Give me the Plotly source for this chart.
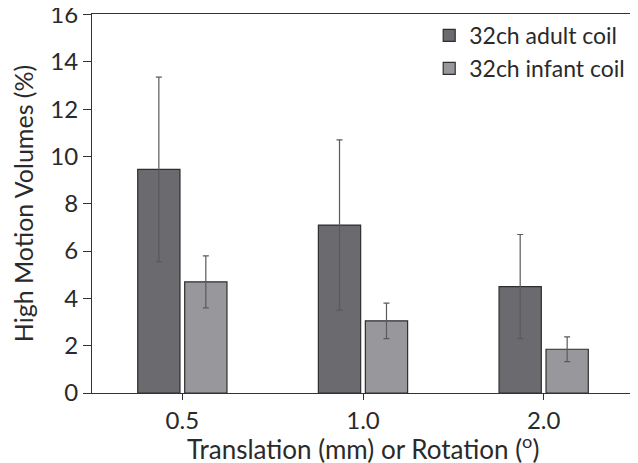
import plotly.graph_objects as go

categories = ["0.5", "1.0", "2.0"]
adult_vals = [9.45, 7.1, 4.5]
adult_err = [3.9, 3.6, 2.2]
infant_vals = [4.7, 3.05, 1.85]
infant_err = [1.1, 0.75, 0.52]
y_ticks = [0, 2, 4, 6, 8, 10, 12, 14, 16]
x_title = "Translation (mm) or Rotation (<sup>o</sup>)"
y_title = "High Motion Volumes (%)"

font_family = "Lato, Open Sans, sans-serif"
text_col = "#2a2a2a"

fig = go.Figure()
fig.add_trace(go.Bar(
    name="32ch adult coil", x=categories, y=adult_vals,
    marker=dict(color="#6b6b6f", line=dict(color="#2e2e2e", width=1.2)),
    error_y=dict(type="data", array=adult_err, color="#5a5a5a", thickness=1.2, width=3),
))
fig.add_trace(go.Bar(
    name="32ch infant coil", x=categories, y=infant_vals,
    marker=dict(color="#98989c", line=dict(color="#2e2e2e", width=1.2)),
    error_y=dict(type="data", array=infant_err, color="#5a5a5a", thickness=1.2, width=3),
))

# page body has an 8px default margin; size the figure to fill the rest
fig.update_layout(
    width=630, height=455,
    margin=dict(l=84, r=4, t=6, b=70),
    paper_bgcolor="white", plot_bgcolor="white",
    barmode="group", bargap=0.48, bargroupgap=0.1,
    font=dict(family=font_family, color=text_col, size=20),
    showlegend=True,
    legend=dict(x=0.993, y=1.0, xanchor="right", yanchor="top",
                font=dict(size=23, family=font_family, color=text_col),
                bgcolor="rgba(0,0,0,0)", tracegroupgap=0, itemwidth=30),
    xaxis=dict(
        showline=True, linecolor="#333333", linewidth=1.2, mirror=True,
        ticks="outside", ticklen=6, tickcolor="#333333",
        tickfont=dict(size=24), automargin=False, ticklabeloverflow="allow",
    ),
    yaxis=dict(
        range=[0, 16.02], tickvals=y_ticks,
        showline=True, linecolor="#333333", linewidth=1.2, mirror=True,
        ticks="outside", ticklen=8, tickcolor="#333333",
        showgrid=False, zeroline=False, automargin=False, ticklabeloverflow="allow",
        tickfont=dict(size=24),
        title=dict(text=y_title, font=dict(size=25), standoff=9),
    ),
    annotations=[dict(
        text=x_title, xref="paper", yref="paper", x=0.5, y=-0.143,
        xanchor="center", yanchor="middle", showarrow=False,
        font=dict(size=26, family=font_family, color=text_col),
    )],
)

fig.write_html("out.html")
